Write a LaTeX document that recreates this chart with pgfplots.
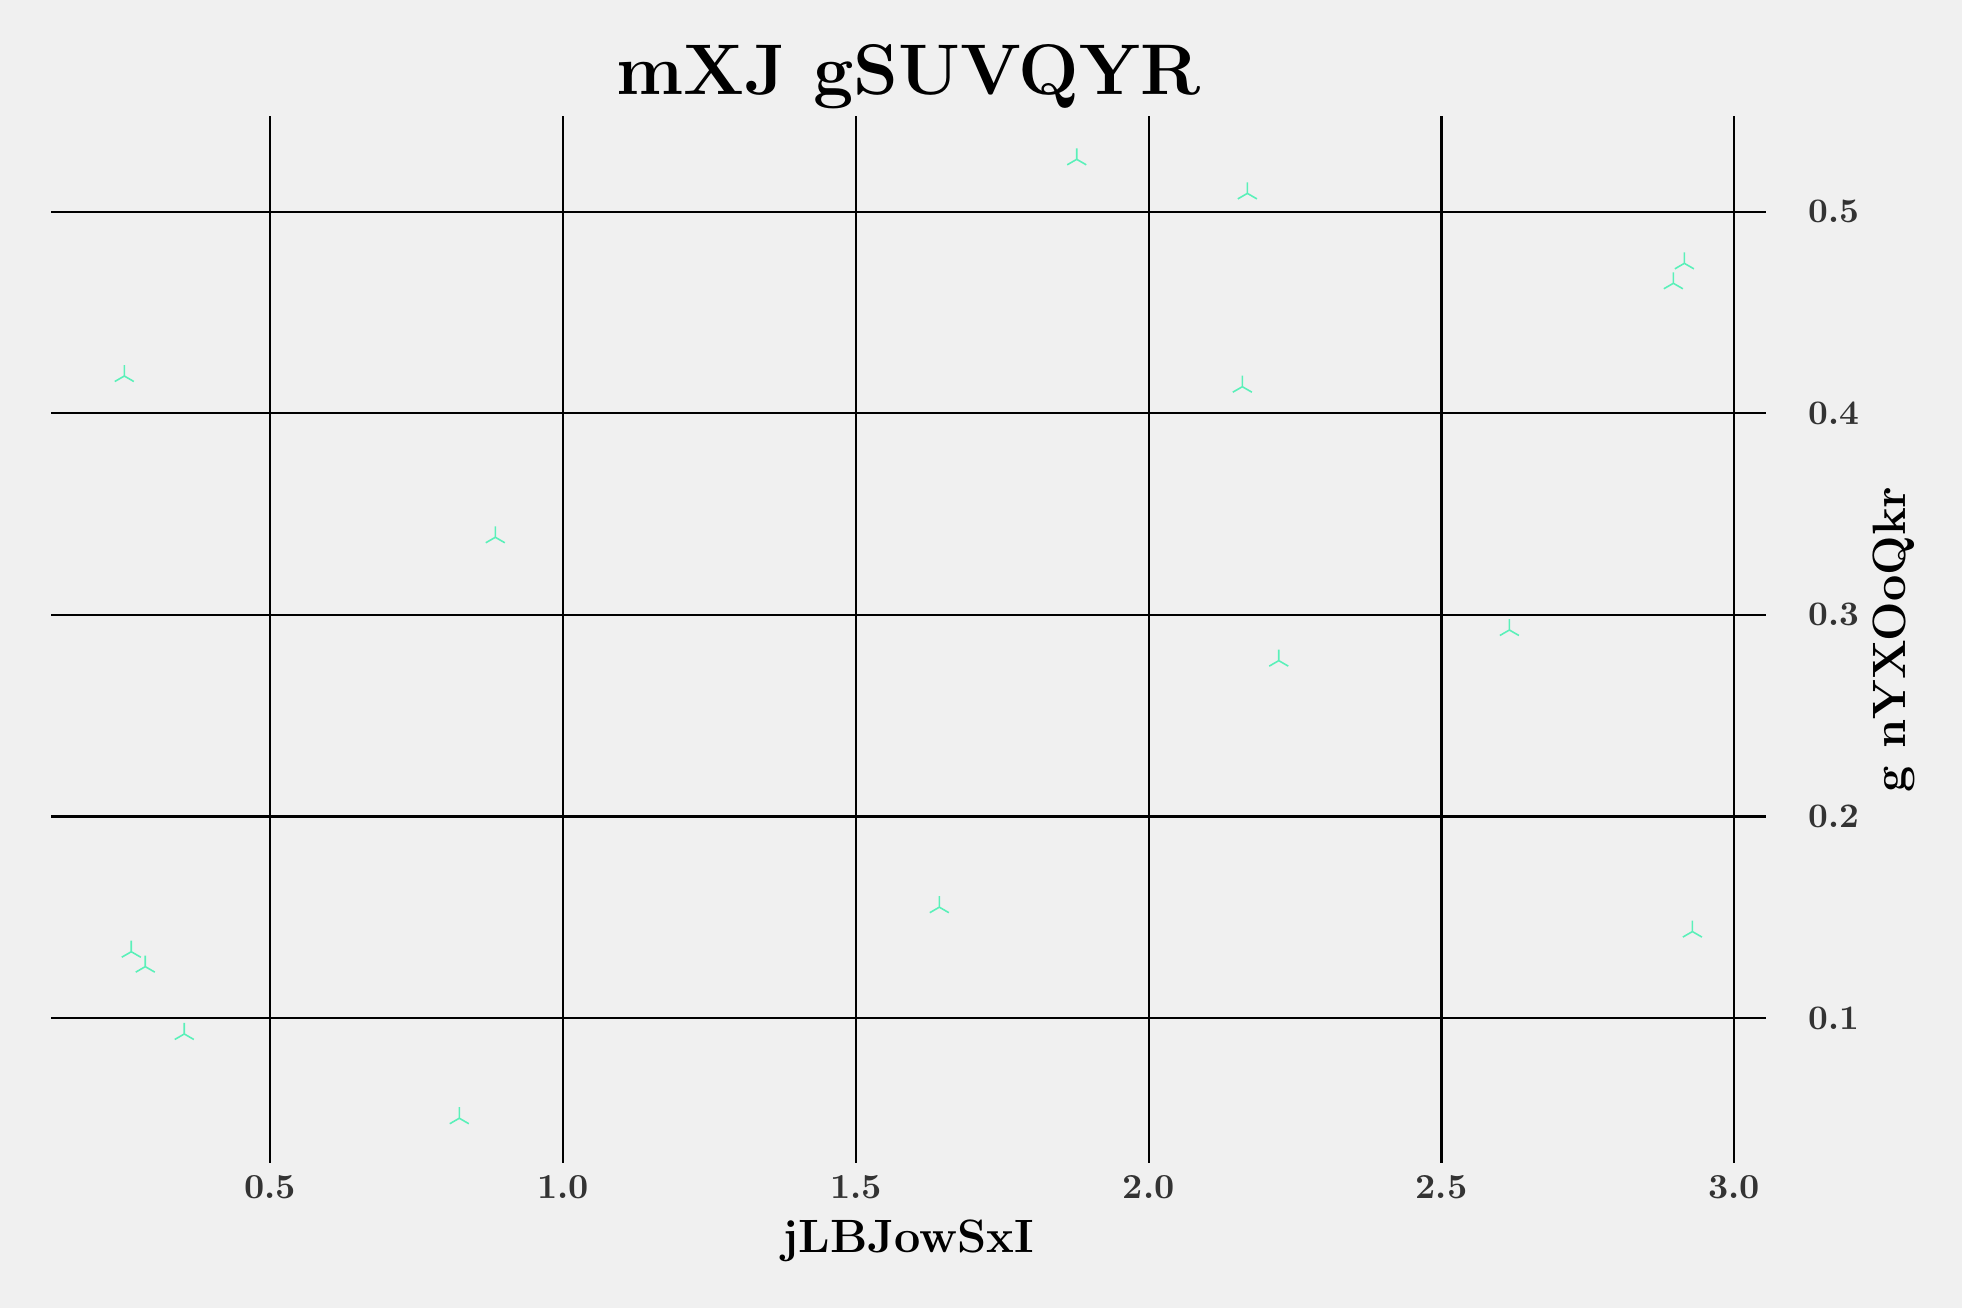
\documentclass[border=0pt]{standalone}
\usepackage{fontspec}
\usepackage{pgfplots}
\pgfplotsset{compat=1.18}
\usetikzlibrary{plotmarks}
\definecolor{bg}{HTML}{F0F0F0}
\definecolor{mk}{RGB}{90,240,185}
\definecolor{tk}{HTML}{333333}
\begin{document}
\begin{tikzpicture}
\path[use as bounding box, fill=bg] (0,0) rectangle (196.2mm,130.8mm);
\begin{axis}[
  at={(5.1mm,14.5mm)}, anchor=south west,
  scale only axis, width=171.5mm, height=104.7mm,
  xmin=0.1255, xmax=3.054, ymin=0.0281, ymax=0.5475,
  axis line style={draw=none},
  major tick length=0pt,
  xtick={0.5,1.0,1.5,2.0,2.5,3.0},
  ytick={0.1,0.2,0.3,0.4,0.5},
  grid=major,
  major grid style={black, line width=0.22mm},
  yticklabel pos=right,
  /pgf/number format/.cd, fixed, fixed zerofill, precision=1, assume math mode=true,
  /pgfplots/.cd,
  xticklabel style={font=\fontsize{10}{12}\selectfont\bfseries, text=tk, anchor=base, yshift=-3.6mm, inner sep=0pt},
  yticklabel style={font=\fontsize{9.8}{12}\selectfont\bfseries, text=tk, anchor=west, xshift=4.2mm, inner sep=0pt},
  title={mXJ gSUVQYR},
  title style={font=\fontsize{20.4}{24}\selectfont\bfseries, at={(0.5,1.0003)}, anchor=base, inner sep=0pt},
  xlabel={jLBJowSxI},
  xlabel style={font=\fontsize{13.3}{15}\selectfont\bfseries, at={(0.5,-0.0857)}, anchor=base, inner sep=0pt},
  ylabel={g nYXOoQkr},
  ylabel style={font=\fontsize{13.3}{15}\selectfont\bfseries, at={(1.0815,0.5)}, anchor=base, rotate=0, inner sep=0pt},
]
\addplot[only marks, color=mk, mark=Mercedes star, mark size=3.13pt, mark options={draw=mk, line width=0.45pt}] table {
x y
1.877 0.5260
2.1684 0.5091
2.1598 0.4132
0.2507 0.4185
0.8842 0.3385
2.222 0.2773
2.6158 0.2925
1.6424 0.1550
2.9283 0.1429
0.2626 0.1329
0.2865 0.1255
0.3531 0.0921
0.8227 0.0503
2.9146 0.4744
2.8958 0.4645
};
\end{axis}
\end{tikzpicture}
\end{document}
